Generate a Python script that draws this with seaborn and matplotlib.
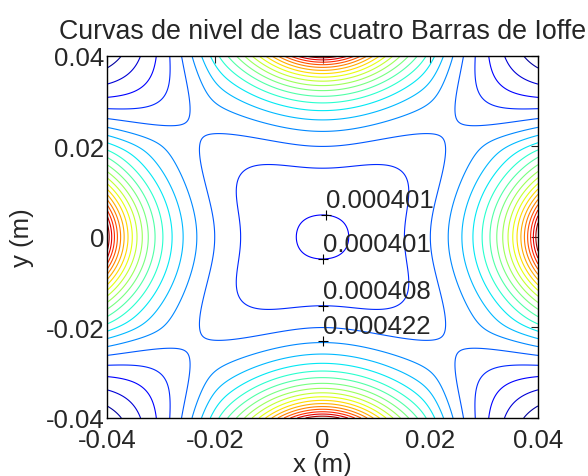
import numpy as np
import matplotlib
matplotlib.use('Agg')
import matplotlib.pyplot as plt
import seaborn as sns

# contour levels (units of 1e-4 T), spacing taken from the labels 0.000401 / 0.000408 / 0.000422
levels = [3.87, 3.94, 4.01, 4.08, 4.15, 4.22, 4.29, 4.36, 4.43, 4.50, 4.57,
          4.64, 4.71, 4.78, 4.85, 4.92, 4.99, 5.06, 5.13, 5.20, 5.27]

# clabel marks (m) and their text
lab_x = [0.0006, 0.0, 0.0, 0.0]
lab_y = [0.0049, -0.0049, -0.0152, -0.0230]
lab_txt = ['0.000401', '0.000401', '0.000408', '0.000422']

ticks = [-0.04, -0.02, 0, 0.02, 0.04]
tick_lbl = ['-0.04', '-0.02', '0', '0.02', '0.04']

# field model (cm, 1e-4 T): bias + radial term + four bars (1/dist) + corner terms
bar_x = [5.2, 0.0, -5.2, 0.0]
bar_y = [0.0, 5.2, 0.0, -5.2]
B0 = 4.003      # bias at the centre
k_rad = 0.01227
lam = 0.4568    # weight of the bars
a_sq = 0.038    # squares the inner lines
b_cr = 0.031    # drop towards the corners
p_cr = 5.6

g = np.linspace(-4, 4, 481)
X, Y = np.meshgrid(g, g)
R2 = X**2 + Y**2

U = -4.0
for bx, by in zip(bar_x, bar_y):
    U = U + 5.2 / np.sqrt((X - bx)**2 + (Y - by)**2)

G = X**2 * Y**2 / (R2**2 / 4 + 1.6)
H = 2 * X**2 * Y**2 / (R2 + 0.5)
corner = 0.5 * np.log1p(np.exp((H - p_cr) / 0.5))
B = B0 + k_rad * R2 + lam * U - a_sq * G - b_cr * corner

sns.set_style('white')
plt.rcParams['font.family'] = ['Liberation Sans', 'DejaVu Sans']
plt.rcParams['axes.unicode_minus'] = False

fig = plt.figure(figsize=(5.88, 4.77), dpi=100)
ax = fig.add_axes([0.182, 0.1216, 0.733, 0.759])

jet = matplotlib.colormaps['jet']
lv = np.array(levels)
cols = [jet((v - B.min()) / (B.max() - B.min())) for v in lv]
ax.contour(X * 0.01, Y * 0.01, B, levels=lv, colors=cols, linewidths=0.8)

for x0, y0, t in zip(lab_x, lab_y, lab_txt):
    ax.plot(x0, y0, '+', color='black', ms=7, mew=0.8)
    ax.text(x0, y0 + 0.0017, t, fontsize=18.5, ha='left', va='baseline')

ax.set_xlim(-0.04, 0.04)
ax.set_ylim(-0.04, 0.04)
ax.set_xticks(ticks)
ax.set_xticklabels(tick_lbl)
ax.set_yticks(ticks)
ax.set_yticklabels(tick_lbl)
ax.tick_params(direction='in', top=True, right=True, length=5, width=0.8,
               labelsize=18.5)
ax.tick_params(axis='x', pad=7)
ax.tick_params(axis='y', pad=2)
for s in ax.spines.values():
    s.set_linewidth(1.0)
    s.set_color('black')

ax.set_title('Curvas de nivel de las cuatro Barras de Ioffe', fontsize=19.3, pad=13)
ax.set_xlabel('x (m)', fontsize=18.5, labelpad=0)
ax.set_ylabel('y (m)', fontsize=18.5, labelpad=8)

fig.savefig('out.png', dpi=100)
